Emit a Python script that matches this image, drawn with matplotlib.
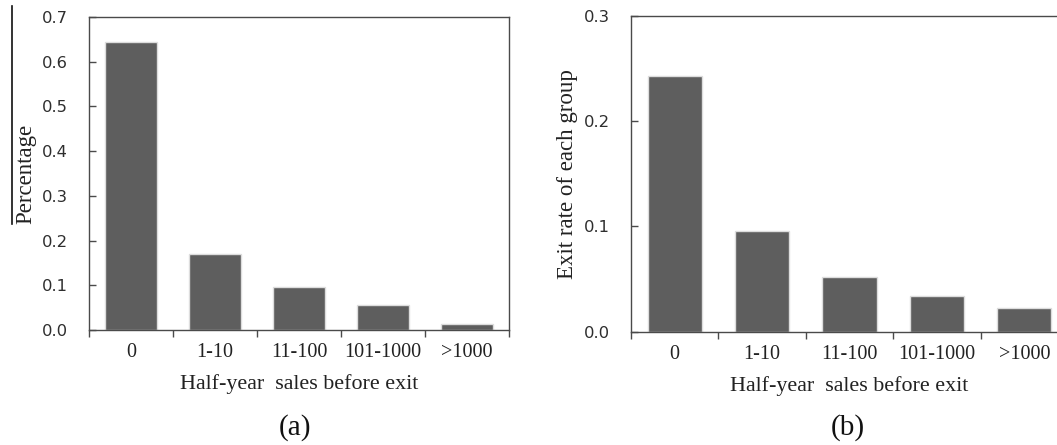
import matplotlib
matplotlib.use("Agg")
import matplotlib.pyplot as plt
from matplotlib.lines import Line2D

categories = ["0", "1-10", "11-100", "101-1000", ">1000"]
share_values = [0.643, 0.171, 0.097, 0.056, 0.013]
exit_rates = [0.243, 0.096, 0.052, 0.034, 0.0226]
share_yticks = [0.0, 0.1, 0.2, 0.3, 0.4, 0.5, 0.6, 0.7]
rate_yticks = [0.0, 0.1, 0.2, 0.3]

serif = "Liberation Serif"
sans = "DejaVu Sans"
bar_color = "#5e5e5e"
spine_color = "#4a4a4a"

fig = plt.figure(figsize=(10.57, 4.45), dpi=100)
W, H = 1057, 445

def add_axes(x0, x1, ytop, ybot):
    return fig.add_axes([x0 / W, (H - ybot) / H, (x1 - x0) / W, (ybot - ytop) / H])

ax1 = add_axes(89, 509, 17, 330)
ax2 = add_axes(631, 1068, 16, 331.7)

def style(ax, values, yticks, ylabel, labelpad):
    x = list(range(len(categories)))
    ax.bar(x, values, width=0.62, color=bar_color, edgecolor="#dddddd", linewidth=1.0)
    ax.set_xlim(-0.5, len(categories) - 0.5)
    ax.set_ylim(yticks[0], yticks[-1])
    ax.set_yticks(yticks)
    ax.set_yticklabels([f"{v:.1f}" for v in yticks], fontfamily=sans, fontsize=11.8, color="#2e2e2e")
    ax.set_xticks([i - 0.5 for i in range(len(categories) + 1)], minor=False)
    ax.set_xticklabels([])
    ax.set_xticks(x, minor=True)
    ax.set_xticklabels(categories, minor=True, fontfamily=serif, fontsize=14.5, color="#222222")
    ax.tick_params(axis="x", which="major", direction="out", length=5, width=1, color=spine_color)
    ax.tick_params(axis="x", which="minor", length=0, pad=9.5)
    ax.tick_params(axis="y", direction="in", length=5, width=1, color=spine_color, pad=15)
    for s in ax.spines.values():
        s.set_color(spine_color)
        s.set_linewidth(1.0)
    ax.set_ylabel(ylabel, fontfamily=serif, fontsize=16.5, color="#222222", labelpad=labelpad)
    ax.set_xlabel("Half-year  sales before exit", fontfamily=serif, fontsize=15.8, color="#222222", labelpad=8.5)

style(ax1, share_values, share_yticks, "Percentage", 4)
style(ax2, exit_rates, rate_yticks, "Exit rate of each group", 4)

fig.text(295 / W, 1 - 428 / H, "(a)", fontfamily=serif, fontsize=21, ha="center", va="center", color="#111111")
fig.text(848 / W, 1 - 428 / H, "(b)", fontfamily=serif, fontsize=21, ha="center", va="center", color="#111111")

fig.add_artist(Line2D([12.3 / W, 12.3 / W], [1 - 6 / H, 1 - 224 / H], color="#111111", linewidth=1.2))

fig.savefig("out.png", dpi=100)
